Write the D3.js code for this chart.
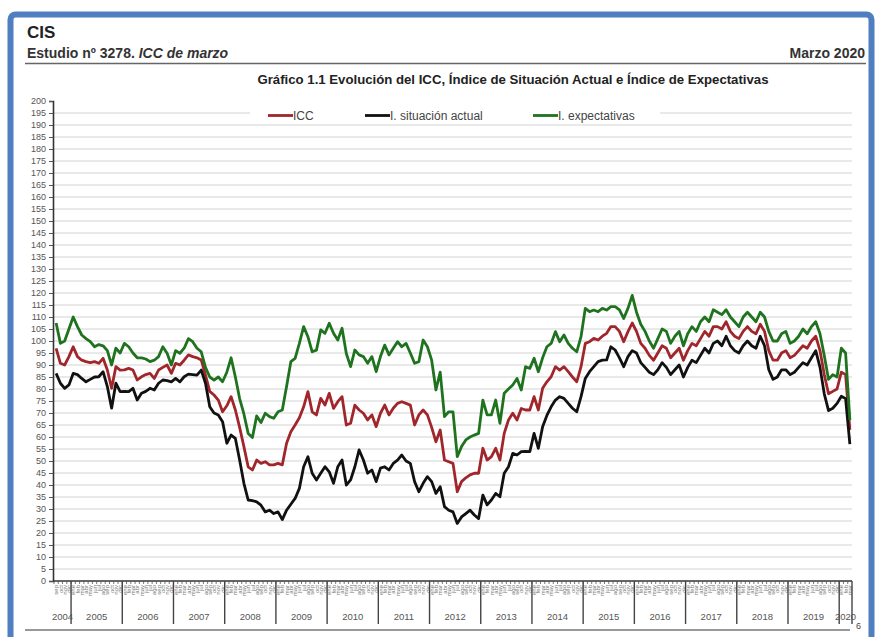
<!DOCTYPE html>
<html>
<head>
<meta charset="utf-8">
<script src="https://cdn.jsdelivr.net/npm/d3@7"></script>
<style>
  body { margin: 0; background: #fff; }
  svg { display: block; font-family: "Liberation Sans", Arial, sans-serif; }
</style>
</head>
<body>
<div class="chart"></div>
<script>
// DATA
var monthNames = ["ene", "feb", "mar", "abr", "may", "jun", "jul", "ago", "sep", "oct", "nov", "dic"];
var years = [2004, 2005, 2006, 2007, 2008, 2009, 2010, 2011, 2012, 2013, 2014, 2015, 2016, 2017, 2018, 2019, 2020];
var firstMonthIdx = 8; // sep 2004
var lastMonthIdx = 2;  // mar 2020
var yTicks = [0, 5, 10, 15, 20, 25, 30, 35, 40, 45, 50, 55, 60, 65, 70, 75, 80, 85, 90, 95, 100,
  105, 110, 115, 120, 125, 130, 135, 140, 145, 150, 155, 160, 165, 170, 175, 180, 185, 190, 195, 200];

var icc = [
  96.9, 90.7, 90, 93.5,
  97.6, 93.5, 92, 91.4, 91, 91.4, 90.7, 92.8, 87.9, 80.3, 89.3, 87.9,
  88, 88.6, 87.9, 83.75, 85.1, 86, 86.5, 84.4, 87.9, 89, 90, 86.5,
  90.7, 90, 92, 94.2, 93.5, 93, 92.1, 85.8, 79, 77.5, 75.4, 70.5,
  73, 76.8, 71.25, 64, 56, 47.6, 46.25, 50.4, 49, 49.7, 48.4, 48.4,
  49, 48.4, 57.4, 62.2, 65, 68, 72.6, 78.9, 70.5, 69.2, 76.1, 73.3,
  78.2, 71.9, 74.7, 76.8, 65, 65.7, 73.3, 71.25, 69.9, 67.1, 69.2, 64.3,
  69.9, 73.3, 69.2, 72, 74, 74.7, 74, 73.3, 65, 69.2, 71.25, 69.2,
  64, 58, 62.9, 50.4, 49.7, 49, 37.2, 41.4, 43, 44.2, 44.9, 44.9,
  55.3, 50.4, 51.8, 55.3, 50.4, 61.5, 67.1, 69.9, 67.1, 71.9, 71.25, 71.25,
  76.8, 71.25, 80.3, 83, 85.1, 89.3, 87.9, 89.3, 87.2, 85, 83, 89.3,
  99, 99.7, 101.1, 100.4, 102, 103.2, 106, 106, 104, 99.7, 103.9, 107.5,
  104, 99, 97, 94, 92, 95, 98, 97, 93, 95, 97, 92,
  96, 99, 98, 101, 104, 102, 106, 106, 105, 108, 104, 102,
  101, 104, 106, 104, 103, 107, 104, 96, 92, 92, 95, 96,
  93, 94, 96, 98, 97, 100, 102, 96, 86, 78, 79, 80,
  87, 86, 63
];
var sitActual = [
  86.5, 82.4, 80.3, 81.7,
  86.5, 86, 84.4, 83, 84, 85, 85.1, 87.2, 81, 72, 82.4, 78.9,
  79, 78.9, 80.3, 75.4, 78.2, 79, 80.3, 79.6, 82.4, 83.75, 83.5, 83,
  84.4, 83, 85.1, 86.2, 86, 85.8, 87.9, 82.4, 72.6, 70, 69.2, 66.4,
  57.4, 60.8, 59.4, 50.4, 40.7, 33.75, 33.5, 33, 31.6, 28.8, 29.5, 28.1,
  28.8, 25.6, 29.5, 32, 34.4, 38.6, 47.6, 51.8, 44.9, 42.1, 44.9, 47.6,
  45.5, 40.7, 47.6, 50.4, 40, 42.1, 47.6, 54.6, 50.4, 44.9, 46.25, 41.4,
  47, 47.6, 46.25, 49, 50.4, 52.5, 50, 49, 41.4, 37.2, 40.7, 43.5,
  41.4, 36.5, 39.3, 31, 29.5, 28.8, 24, 26.7, 28.1, 29.5, 27.5, 26,
  35.8, 31.7, 33.75, 36.5, 35.1, 44.9, 47.6, 53.2, 52.5, 53.9, 54, 53.9,
  61.5, 55.3, 64.3, 69, 72.6, 75.4, 76.8, 76.1, 74, 72, 70.5, 76.8,
  84.4, 87.2, 89.3, 91.4, 92, 92.1, 97.6, 96.25, 93, 89.3, 93.5, 96,
  95, 91, 89, 87, 86, 88, 91, 89, 86, 88, 90, 85,
  89, 92, 91, 94, 97, 95, 99, 100, 98, 102, 98, 96,
  95, 98, 100, 98, 97, 102, 98, 88, 84, 85, 88, 88,
  86, 87, 89, 91, 90, 93, 96, 89, 78, 71, 72, 74,
  77, 76, 57
];
var expectativas = [
  107.5, 99, 100, 105,
  110, 106, 102.5, 101, 99.7, 97.6, 98.5, 98, 96, 90, 97, 95,
  99, 97.6, 95, 93, 93, 92.5, 91.4, 92, 93.5, 97.6, 94.9, 90,
  96, 94.9, 97, 101, 99.7, 97, 95.5, 89, 85, 83.7, 85, 83,
  87, 93, 85, 76, 69.6, 61.5, 59.8, 68.8, 66, 69.9, 68.5, 67.8,
  70.5, 71.25, 81, 91.4, 92.8, 99, 106, 101.8, 95.5, 96.2, 104.6, 103.2,
  107.4, 103.2, 100.4, 105.3, 94.8, 89.3, 96.25, 94.2, 93.5, 90.7, 93.5, 87.2,
  93.5, 98.3, 94.2, 97, 99.7, 97.6, 99, 95, 90.7, 91.4, 100.4, 97.6,
  92, 79.6, 87, 68.5, 70.5, 70.5, 51.8, 56, 58.8, 60, 60.8, 61.5,
  75.4, 69.2, 69.2, 75.4, 65.7, 78.2, 80, 81.7, 84.4, 79.6, 89.3, 88.6,
  92.8, 87.2, 93, 97.6, 99, 103.9, 99.7, 102.5, 99, 97, 95.5, 101.8,
  113.6, 112.2, 112.9, 112.2, 113.6, 112.9, 114.3, 114.3, 113, 109.4, 113.6, 119,
  112, 107, 104, 100, 97, 101, 105, 104, 99, 102, 104, 98,
  103, 106, 104, 108, 110, 108, 113, 112, 111, 113, 110, 108,
  106, 110, 112, 110, 108, 112, 110, 104, 100, 100, 103, 104,
  99, 100, 102, 105, 103, 106, 108, 103, 94, 84, 86, 85,
  97, 95, 67
];

var seriesNames = ["ICC", "I. situación actual", "I. expectativas"];
var seriesColors = ["#a0262b", "#111111", "#1f731f"];

// Monthly categories
var months = [];
years.forEach(function (yr, yi) {
  monthNames.forEach(function (m, k) {
    if (yi === 0 && k < firstMonthIdx) return;
    if (yi === years.length - 1 && k > lastMonthIdx) return;
    months.push({ key: yr + "-" + k, year: yr, label: m });
  });
});
var series = [icc, sitActual, expectativas].map(function (vals, s) {
  return { name: seriesNames[s], color: seriesColors[s],
    values: vals.map(function (v, i) { return { key: months[i].key, value: v }; }) };
});

// SET UP
var W = 876, H = 637;
var svg = d3.select(".chart").append("svg").attr("width", W).attr("height", H);

var x = d3.scaleBand().domain(months.map(function (d) { return d.key; })).range([54, 852]);
var y = d3.scaleLinear().domain([0, 200]).range([581, 101]);

// page frame
svg.append("rect").attr("x", 10.5).attr("y", 14.5).attr("width", 861).attr("height", 640)
  .attr("rx", 5).attr("fill", "#fff").attr("stroke", "#4f7fc0").attr("stroke-width", 6);

// header
svg.append("text").attr("x", 27).attr("y", 38).attr("font-size", 17).attr("font-weight", "bold")
  .attr("fill", "#222").text("CIS");
var sub = svg.append("text").attr("x", 27).attr("y", 58).attr("font-size", 14)
  .attr("font-weight", "bold").attr("fill", "#333");
sub.append("tspan").text("Estudio nº 3278. ");
sub.append("tspan").attr("font-style", "italic").text("ICC de marzo");
svg.append("text").attr("x", 865).attr("y", 58).attr("text-anchor", "end").attr("font-size", 14)
  .attr("font-weight", "bold").attr("fill", "#333").text("Marzo 2020");
svg.append("line").attr("x1", 25).attr("x2", 866).attr("y1", 63.5).attr("y2", 63.5)
  .attr("stroke", "#666").attr("stroke-width", 1.5);

// chart title
svg.append("text").attr("x", 513).attr("y", 84).attr("text-anchor", "middle").attr("font-size", 13.2)
  .attr("font-weight", "bold").attr("fill", "#222")
  .text("Gráfico 1.1 Evolución del ICC, Índice de Situación Actual e Índice de Expectativas");

// grid
svg.append("g").selectAll("line").data(yTicks.filter(function (d) { return d > 0 && d < 200; }))
  .enter().append("line")
  .attr("x1", 53).attr("x2", 852)
  .attr("y1", function (d) { return y(d); }).attr("y2", function (d) { return y(d); })
  .attr("stroke", "#d4d4d4").attr("stroke-width", 1.2);

// y axis
var yAxis = svg.append("g").attr("transform", "translate(53,0)")
  .call(d3.axisLeft(y).tickValues(yTicks).tickSize(4).tickPadding(3));
yAxis.select(".domain").attr("stroke", "#333").attr("stroke-width", 1.6);
yAxis.selectAll(".tick line").attr("stroke", "#555");
yAxis.selectAll(".tick text").attr("font-size", 9).attr("fill", "#555")
  .attr("font-family", "'Liberation Sans', Arial, sans-serif");

// x axis: month ticks, labels and year separators
var xg = svg.append("g");
xg.append("line").attr("x1", 53).attr("x2", 852).attr("y1", 581).attr("y2", 581)
  .attr("stroke", "#333").attr("stroke-width", 1.6);
xg.selectAll(".mtick").data(months).enter().append("line")
  .attr("x1", function (d) { return x(d.key); }).attr("x2", function (d) { return x(d.key); })
  .attr("y1", 581).attr("y2", 584).attr("stroke", "#555").attr("stroke-width", 0.8);
xg.selectAll(".mlabel").data(months).enter().append("text")
  .attr("transform", function (d) {
    return "translate(" + (x(d.key) + x.bandwidth() / 2) + ",585) rotate(-90)";
  })
  .attr("text-anchor", "end").attr("dy", "0.35em").attr("font-size", 6).attr("fill", "#777")
  .text(function (d) { return d.label; });

var yearGroups = d3.groups(months, function (d) { return d.year; });
xg.selectAll(".ysep").data(yearGroups.slice(1)).enter().append("line")
  .attr("x1", function (d) { return x(d[1][0].key); }).attr("x2", function (d) { return x(d[1][0].key); })
  .attr("y1", 581).attr("y2", 624).attr("stroke", "#444").attr("stroke-width", 1.4);
xg.append("line").attr("x1", 852).attr("x2", 852).attr("y1", 581).attr("y2", 624)
  .attr("stroke", "#444").attr("stroke-width", 1.4);
xg.selectAll(".ylabel").data(yearGroups).enter().append("text")
  .attr("x", function (d) {
    var a = x(d[1][0].key), b = x(d[1][d[1].length - 1].key) + x.bandwidth();
    return (a + b) / 2;
  })
  .attr("y", 620).attr("text-anchor", "middle").attr("font-size", 9.5).attr("fill", "#555")
  .text(function (d) { return d[0]; });

// footer
svg.append("line").attr("x1", 25).attr("x2", 850).attr("y1", 630).attr("y2", 630)
  .attr("stroke", "#777").attr("stroke-width", 1.5);
svg.append("text").attr("x", 856).attr("y", 629).attr("font-size", 9).attr("fill", "#444").text("6");

// lines
var line = d3.line()
  .x(function (d) { return x(d.key) + x.bandwidth() / 2; })
  .y(function (d) { return y(d.value); });
svg.append("g").selectAll("path").data(series).enter().append("path")
  .attr("d", function (d) { return line(d.values); })
  .attr("fill", "none")
  .attr("stroke", function (d) { return d.color; })
  .attr("stroke-width", 2.8)
  .attr("stroke-linejoin", "round");

// legend
svg.append("rect").attr("x", 250).attr("y", 107).attr("width", 410).attr("height", 15).attr("fill", "#fff");
var legendX = [268, 365, 533];
var leg = svg.append("g").selectAll("g").data(series).enter().append("g")
  .attr("transform", function (d, i) { return "translate(" + legendX[i] + ",115.5)"; });
leg.append("line").attr("x1", 0).attr("x2", 25).attr("stroke", function (d) { return d.color; })
  .attr("stroke-width", 2.8);
leg.append("text").attr("x", 25).attr("dy", "0.35em").attr("font-size", 12).attr("fill", "#444")
  .text(function (d) { return d.name; });
</script>
</body>
</html>
